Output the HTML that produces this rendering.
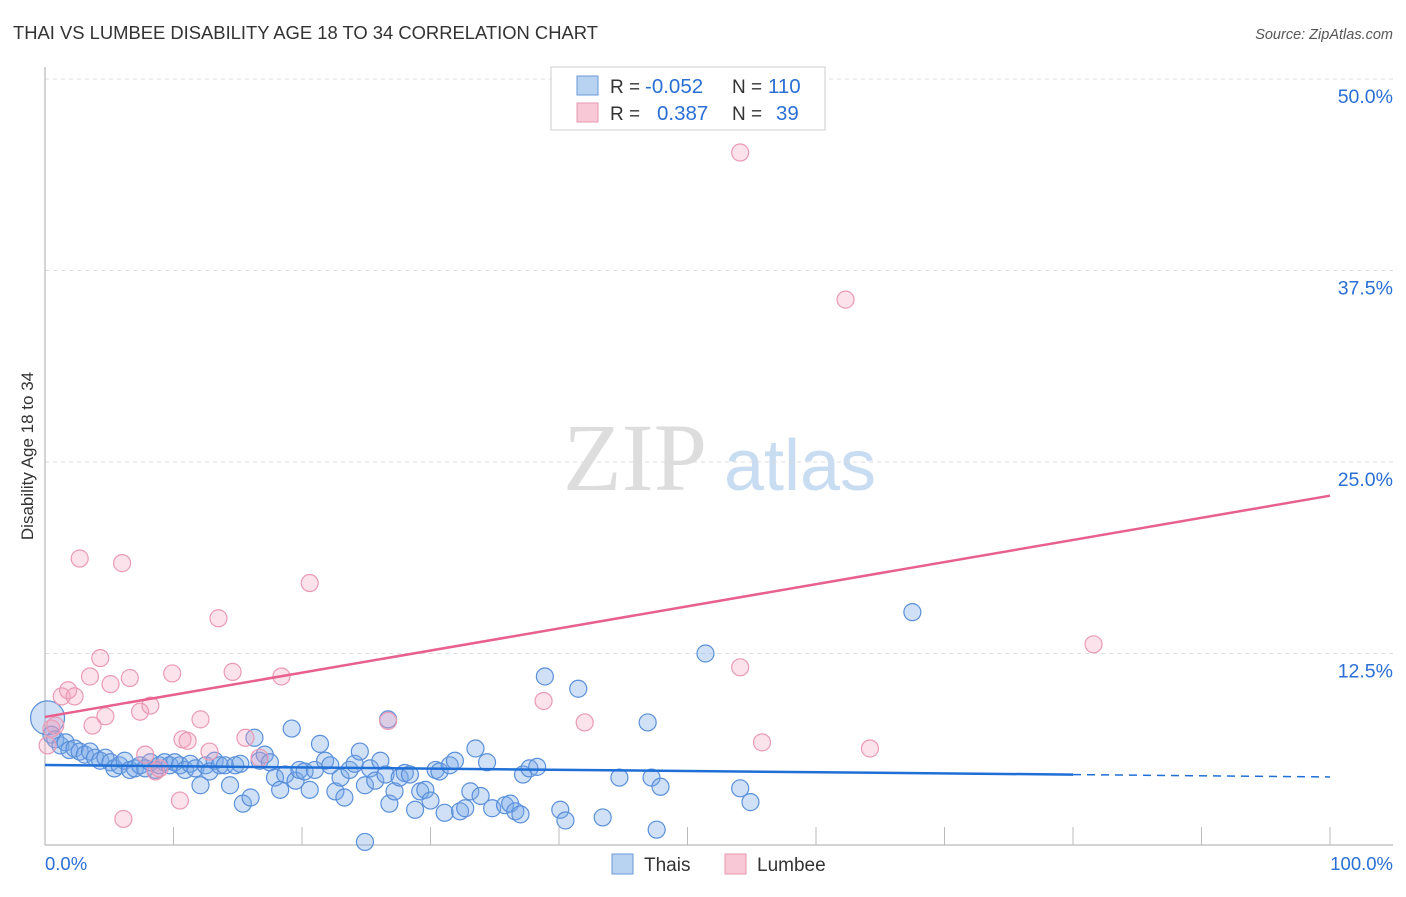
<!DOCTYPE html>
<html><head><meta charset="utf-8"><style>
body{margin:0;background:#fff;font-family:"Liberation Sans",sans-serif;}
svg text{font-family:"Liberation Sans",sans-serif;}
</style></head><body>
<svg id="chart" width="1406" height="892">
<text x="13" y="39" font-size="18.4" fill="#333">THAI VS LUMBEE DISABILITY AGE 18 TO 34 CORRELATION CHART</text>
<text x="1393" y="39" font-size="14.5" fill="#555" font-style="italic" text-anchor="end">Source: ZipAtlas.com</text>
<text transform="translate(33,456) rotate(-90)" font-size="17" fill="#333" text-anchor="middle">Disability Age 18 to 34</text>
<g>
<text x="635" y="490" font-size="96" fill="#ddd" text-anchor="middle" style="font-family:'Liberation Serif',serif">ZIP</text>
<text x="800" y="490" font-size="72" fill="#c8dcf2" text-anchor="middle">atlas</text>
</g>
<g id="grid"></g><g id="axes"></g><g id="pts"></g><g id="lines"></g>
<g>
<rect x="551" y="67" width="274" height="63" fill="#fff" stroke="#ccc"/>
<rect x="577" y="76" width="21" height="19" fill="#b8d2f2" stroke="#6a9ad8"/>
<rect x="577" y="103" width="21" height="19" fill="#f8c8d6" stroke="#e898b2"/>
<text x="610" y="93" font-size="19" fill="#333">R = <tspan fill="#2a6fd4" x="645" font-size="20.5">-0.052</tspan></text>
<text x="732" y="93" font-size="19" fill="#333">N = <tspan fill="#2a6fd4" x="768" font-size="20.5">110</tspan></text>
<text x="610" y="120" font-size="19" fill="#333">R = <tspan fill="#2a6fd4" x="657" font-size="20.5">0.387</tspan></text>
<text x="732" y="120" font-size="19" fill="#333">N = <tspan fill="#2a6fd4" x="776" font-size="20.5">39</tspan></text>
</g>
<g>
<rect x="612" y="854" width="21" height="20" fill="#b8d2f2" stroke="#6a9ad8"/>
<text x="644" y="871" font-size="19" fill="#333">Thais</text>
<rect x="725" y="854" width="21" height="20" fill="#f8c8d6" stroke="#e898b2"/>
<text x="757" y="871" font-size="19" fill="#333">Lumbee</text>
</g>
</svg>
<script>
const xTickLabels=["0.0%","100.0%"];
const yTicks=[12.5,25,37.5,50];
const yTickLabels=["12.5%","25.0%","37.5%","50.0%"];
const thaisX=[0.2,0.5,0.8,1.2,1.6,1.9,2.3,2.7,3.1,3.5,3.9,4.3,4.7,5.1,5.4,5.8,6.2,6.6,7.0,7.4,7.8,8.2,8.6,8.9,9.3,9.7,10.1,10.5,10.9,11.3,11.7,12.1,12.5,12.8,13.2,13.6,14.0,14.4,14.8,15.2,15.4,16.0,16.3,16.7,17.1,17.5,17.9,18.3,18.7,19.2,19.5,19.8,20.2,20.6,21.0,21.4,21.8,22.2,22.6,23.0,23.3,23.7,24.1,24.5,24.9,25.3,25.7,26.1,26.5,26.8,27.2,27.6,28.0,28.4,28.8,29.2,29.6,30.0,30.4,30.7,31.1,31.5,31.9,32.3,32.7,33.1,33.5,33.9,34.4,34.8,35.8,36.2,36.6,37.0,37.2,37.7,38.3,38.9,40.1,40.5,41.5,43.4,44.7,46.9,47.2,47.6,47.9,51.4,54.1,54.9,67.5,24.9,26.7];
const thaisY=[8.3,7.2,6.9,6.5,6.7,6.2,6.3,6.1,5.9,6.1,5.7,5.5,5.7,5.4,5.0,5.2,5.5,4.9,5.0,5.2,5.0,5.4,4.9,5.2,5.4,5.2,5.4,5.2,4.9,5.3,5.0,3.9,5.2,4.8,5.5,5.2,5.2,3.9,5.2,5.3,2.7,3.1,7.0,5.5,5.9,5.4,4.4,3.6,4.6,7.6,4.2,4.9,4.8,3.6,4.9,6.6,5.5,5.2,3.5,4.4,3.1,4.9,5.3,6.1,3.9,5.0,4.2,5.5,4.6,2.7,3.5,4.4,4.7,4.6,2.3,3.5,3.6,2.9,4.9,4.8,2.1,5.2,5.5,2.2,2.4,3.5,6.3,3.2,5.4,2.4,2.6,2.7,2.2,2.0,4.6,5.0,5.1,11.0,2.3,1.6,10.2,1.8,4.4,8.0,4.4,1.0,3.8,12.5,3.7,2.8,15.2,0.2,8.2];
const lumbeeX=[0.5,0.2,0.8,1.3,1.8,2.3,2.7,3.5,3.7,4.3,4.7,5.1,6.0,6.1,6.6,7.4,7.8,8.2,8.6,8.9,9.9,10.5,10.7,11.1,12.1,12.8,13.5,14.6,15.6,16.7,18.4,20.6,26.7,38.8,42.0,54.1,54.1,55.8,62.3,64.2,81.6];
const lumbeeY=[7.6,6.5,7.8,9.7,10.1,9.7,18.7,11.0,7.8,12.2,8.4,10.5,18.4,1.7,10.9,8.7,5.9,9.1,4.8,5.0,11.2,2.9,6.9,6.8,8.2,6.1,14.8,11.3,7.0,5.7,11.0,17.1,8.1,9.4,8.0,45.2,11.6,6.7,35.6,6.3,13.1];
const thaisTrend=[5.22,4.44];
const lumbeeTrend=[8.36,22.8];
const NS="http://www.w3.org/2000/svg";
const X0=45,X1=1330,Y0=845,Ypx=15.32;
const sx=v=>X0+(X1-X0)*v/100, sy=v=>Y0-v*Ypx;
function mk(t,a,p){const e=document.createElementNS(NS,t);for(const k in a)e.setAttribute(k,a[k]);p.appendChild(e);return e;}
const grid=document.getElementById('grid'),axes=document.getElementById('axes'),pts=document.getElementById('pts'),lines=document.getElementById('lines');
yTicks.forEach((t,i)=>{
 const l=mk('line',{x1:X0,x2:1393,y1:sy(t),y2:sy(t),stroke:'#ddd','stroke-dasharray':'4,4'},grid);
 
 
 const tx=mk('text',{x:1393,y:sy(t)+24,'font-size':19.5,fill:'#2a6fd4','text-anchor':'end'},axes);tx.textContent=yTickLabels[i];
 
 
});
const topGrid=mk('line',{x1:X0,x2:1393,y1:79,y2:79,stroke:'#ddd','stroke-dasharray':'4,4'},grid);


const ya=mk('line',{x1:X0,x2:X0,y1:67,y2:Y0,stroke:'#aaa'},axes);


const xa=mk('line',{x1:X0,x2:1393,y1:Y0,y2:Y0,stroke:'#aaa'},axes);


for(let i=1;i<=10;i++){const t=mk('line',{x1:sx(i*10),x2:sx(i*10),y1:Y0-18,y2:Y0,stroke:'#bbb'},axes);
 
 }
[[0,'start',45],[100,'end',1393]].forEach((d,i)=>{const t=mk('text',{x:d[2],y:870,'font-size':18.5,fill:'#2a6fd4','text-anchor':d[1]},axes);t.textContent=xTickLabels[i];
 
 });
thaisX.forEach((x,i)=>{const c=mk('circle',{cx:sx(x),cy:sy(thaisY[i]),r:i===0?17:8.5,fill:'rgba(120,170,232,0.35)',stroke:'#5a90da','stroke-width':1.2},pts);
 
 });
lumbeeX.forEach((x,i)=>{const c=mk('circle',{cx:sx(x),cy:sy(lumbeeY[i]),r:8.5,fill:'rgba(244,160,188,0.3)',stroke:'#ea9ab4','stroke-width':1.2},pts);
 
 });
const ty=v=>thaisTrend[0]+(thaisTrend[1]-thaisTrend[0])*v/100;
const t1=mk('line',{x1:sx(0),y1:sy(ty(0)),x2:sx(80),y2:sy(ty(80)),stroke:'#1f6fd6','stroke-width':2.5},lines);


const t2=mk('line',{x1:sx(80),y1:sy(ty(80)),x2:sx(100),y2:sy(ty(100)),stroke:'#1f6fd6','stroke-width':1.5,'stroke-dasharray':'8,6'},lines);


const t3=mk('line',{x1:sx(0),y1:sy(lumbeeTrend[0]),x2:sx(100),y2:sy(lumbeeTrend[1]),stroke:'#e8608e','stroke-width':2.5},lines);


</script>
</body></html>
